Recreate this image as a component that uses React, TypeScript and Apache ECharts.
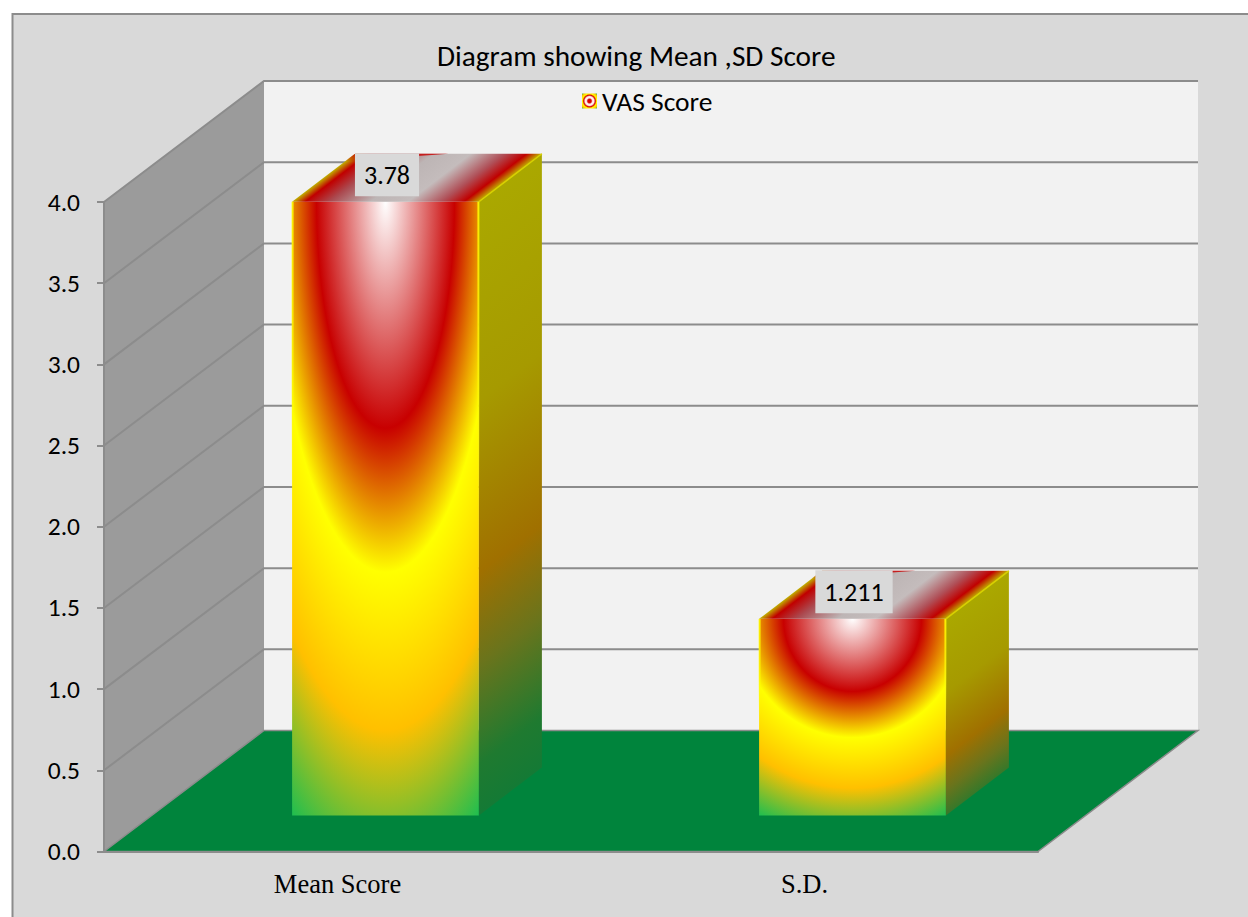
import React, { useEffect, useRef } from "react";
import * as echarts from "echarts";

const chartTitle = "Diagram showing Mean ,SD Score";
const seriesName = "VAS Score";
const categories = ["Mean Score", "S.D."];
const scoreValues = [3.78, 1.211];
const valueTicks = [0, 0.5, 1, 1.5, 2, 2.5, 3, 3.5, 4];

const UI_FONT = "Carlito, Lato, sans-serif";
const SERIF_FONT = "'Liberation Serif', serif";

// Oblique projection of the chart's depth axis
const WALL_DX = 160;
const WALL_DY = -121;
const BAR_GAP_DX = 48;
const BAR_GAP_DY = -36;
const BAR_DX = 63;
const BAR_DY = -48;
const BAR_WIDTH_RATIO = 0.4;

const GRID_LINE = "#8c8c8c";

const frontFill = () =>
  new echarts.graphic.RadialGradient(0.5, 0, 1.118, [
    { offset: 0, color: "#ffffff" },
    { offset: 0.33, color: "#c80000" },
    { offset: 0.54, color: "#ffff00" },
    { offset: 0.77, color: "#ffc000" },
    { offset: 1, color: "#1ebe50" },
  ]);

// Unit vector across the skewed faces, perpendicular to the depth direction
const depthLen = Math.hypot(BAR_DX, BAR_DY);
const nx = -BAR_DY / depthLen;
const ny = BAR_DX / depthLen;

const renderWalls = (params: any, api: any) => {
  const cs = params.coordSys;
  const x0 = cs.x;
  const x1 = cs.x + cs.width;
  const yFor = (v: number) => api.coord([0, v])[1];
  const y0 = yFor(valueTicks[0]);
  const yTop = yFor(valueTicks[valueTicks.length - 1]);
  const children: any[] = [
    {
      type: "polygon",
      shape: {
        points: [
          [x0 + WALL_DX, yTop + WALL_DY],
          [x1 + WALL_DX, yTop + WALL_DY],
          [x1 + WALL_DX, y0 + WALL_DY],
          [x0 + WALL_DX, y0 + WALL_DY],
        ],
      },
      style: { fill: "#f2f2f2" },
    },
    {
      type: "polygon",
      shape: {
        points: [
          [x0, yTop],
          [x0 + WALL_DX, yTop + WALL_DY],
          [x0 + WALL_DX, y0 + WALL_DY],
          [x0, y0],
        ],
      },
      style: { fill: "#9b9b9b" },
    },
  ];
  valueTicks.forEach((t) => {
    const y = yFor(t);
    children.push({
      type: "polyline",
      shape: {
        points: [
          [x0, y],
          [x0 + WALL_DX, y + WALL_DY],
          [x1 + WALL_DX, y + WALL_DY],
        ],
      },
      style: { stroke: GRID_LINE, lineWidth: t === 0 ? 0 : 2, fill: "none" },
    });
  });
  children.push({
    type: "polygon",
    shape: {
      points: [
        [x0, y0],
        [x1, y0],
        [x1 + WALL_DX, y0 + WALL_DY],
        [x0 + WALL_DX, y0 + WALL_DY],
      ],
    },
    style: { fill: "#00843c", stroke: GRID_LINE, lineWidth: 1.5 },
  });
  return { type: "group", children };
};

const rimFill = (yStart: number, yEnd: number) => ({
  type: "linear",
  global: true,
  x: 0,
  y: yStart,
  x2: 0,
  y2: yEnd,
  colorStops: [
    { offset: 0, color: "rgba(255,255,0,0.85)" },
    { offset: 0.6, color: "rgba(255,255,0,0.6)" },
    { offset: 1, color: "rgba(255,255,0,0)" },
  ],
});

const renderBar = (params: any, api: any) => {
  const idx = api.value(0);
  const val = api.value(1);
  const base = api.coord([idx, 0]);
  const top = api.coord([idx, val]);
  const w = api.size([1, 0])[0] * BAR_WIDTH_RATIO;
  const xl = base[0] - w / 2 + BAR_GAP_DX;
  const xr = xl + w;
  const yb = base[1] + BAR_GAP_DY;
  const yt = top[1] + BAR_GAP_DY;
  const backY = yt + BAR_DY;

  const sideLen = BAR_DX * nx + (yb - yt) * ny;
  const topLen = w * nx;
  const rimEnd = yt + (yb - yt) * 0.5;

  return {
    type: "group",
    children: [
      {
        type: "rect",
        shape: { x: xl, y: yt, width: w, height: yb - yt },
        style: { fill: frontFill() },
      },
      {
        // Side face, shaded along the same skew as the depth edges
        type: "polygon",
        shape: {
          points: [
            [xr, yt],
            [xr + BAR_DX, backY],
            [xr + BAR_DX, yb + BAR_DY],
            [xr, yb],
          ],
        },
        style: {
          fill: {
            type: "linear",
            global: true,
            x: xr,
            y: yt,
            x2: xr + nx * sideLen,
            y2: yt + ny * sideLen,
            colorStops: [
              { offset: 0, color: "#aaa800" },
              { offset: 0.3, color: "#a69a00" },
              { offset: 0.56, color: "#a07000" },
              { offset: 0.7, color: "#6a741c" },
              { offset: 0.85, color: "#1f7a30" },
              { offset: 1, color: "#0a7a3a" },
            ],
          },
        },
      },
      {
        // Lid
        type: "polygon",
        shape: {
          points: [
            [xl, yt],
            [xr, yt],
            [xr + BAR_DX, backY],
            [xl + BAR_DX, backY],
          ],
        },
        style: {
          fill: {
            type: "linear",
            global: true,
            x: xl,
            y: yt,
            x2: xl + nx * topLen,
            y2: yt + ny * topLen,
            colorStops: [
              { offset: 0, color: "#c0b000" },
              { offset: 0.07, color: "#c00000" },
              { offset: 0.2, color: "#ab4a50" },
              { offset: 0.42, color: "#bdb5b5" },
              { offset: 0.62, color: "#c4bcbc" },
              { offset: 0.8, color: "#b05058" },
              { offset: 0.92, color: "#c00000" },
              { offset: 1, color: "#c0b000" },
            ],
          },
        },
      },
      {
        // Thin deep-red wedge along the lid's rear edge
        type: "polygon",
        shape: {
          points: [
            [xl + BAR_DX, backY],
            [xl + BAR_DX + w * 0.5, backY],
            [xl + BAR_DX - 11, backY + 8],
          ],
        },
        style: {
          fill: {
            type: "linear",
            global: true,
            x: 0,
            y: backY,
            x2: 0,
            y2: backY + 8,
            colorStops: [
              { offset: 0, color: "rgba(200,0,0,0.9)" },
              { offset: 1, color: "rgba(200,0,0,0)" },
            ],
          },
        },
      },
      // Bright rims on the upper part of the front edges and the lid's side edge
      {
        type: "line",
        shape: { x1: xr - 0.5, y1: yt, x2: xr - 0.5, y2: rimEnd },
        style: { stroke: rimFill(yt, rimEnd), lineWidth: 2 },
      },
      {
        type: "line",
        shape: { x1: xl + 0.5, y1: yt, x2: xl + 0.5, y2: rimEnd },
        style: { stroke: rimFill(yt, rimEnd), lineWidth: 2 },
      },
      {
        type: "line",
        shape: { x1: xr, y1: yt, x2: xr + BAR_DX, y2: backY },
        style: { stroke: "#d8d000", lineWidth: 1.5 },
      },
      {
        type: "text",
        z2: 20,
        x: (xl + xr) / 2 + 1.5,
        y: yt - 27,
        style: {
          text: String(val),
          fontFamily: UI_FONT,
          fontSize: 26,
          fill: "#000",
          align: "center",
          verticalAlign: "middle",
          backgroundColor: "#d9d9d9",
          padding: [9, 9, 8, 9],
        },
      },
    ],
  };
};

export default function App() {
  const ref = useRef<HTMLDivElement>(null);

  useEffect(() => {
    const chart = echarts.init(ref.current!, undefined, { renderer: "svg" });
    chart.setOption({
      animation: false,
      backgroundColor: "#ffffff",
      title: {
        text: chartTitle,
        left: 432,
        top: 36,
        textStyle: { fontFamily: UI_FONT, fontSize: 29.3, fontWeight: "normal", color: "#000" },
      },
      legend: {
        left: 577,
        top: 82,
        itemWidth: 15,
        itemHeight: 15,
        selectedMode: false,
        textStyle: { fontFamily: UI_FONT, fontSize: 27.5, color: "#000" },
        data: [
          {
            name: seriesName,
            icon: "rect",
            itemStyle: {
              color: new echarts.graphic.RadialGradient(0.5, 0.5, 0.7, [
                { offset: 0, color: "#d80000" },
                { offset: 0.16, color: "#d80000" },
                { offset: 0.3, color: "#ffeeee" },
                { offset: 0.42, color: "#ffeeee" },
                { offset: 0.55, color: "#d80000" },
                { offset: 0.68, color: "#ffff00" },
                { offset: 0.85, color: "#ffc000" },
                { offset: 1, color: "#1ebe50" },
              ]),
            },
          },
        ],
      },
      grid: { left: 104, right: 210, top: 202, bottom: 65.5 },
      xAxis: {
        type: "category",
        data: categories,
        z: 3,
        axisLine: { lineStyle: { color: GRID_LINE, width: 2 } },
        axisTick: { show: false },
        axisLabel: { fontFamily: SERIF_FONT, fontSize: 26.5, color: "#000", margin: 19 },
      },
      yAxis: {
        type: "value",
        min: 0,
        max: 4,
        interval: 0.5,
        z: 3,
        axisLine: { show: true, lineStyle: { color: GRID_LINE, width: 2 } },
        axisTick: { show: true, length: 7, lineStyle: { color: GRID_LINE, width: 2 } },
        axisLabel: {
          fontFamily: UI_FONT,
          fontSize: 25.5,
          color: "#000",
          margin: 24,
          formatter: (v: number) => v.toFixed(1),
        },
        splitLine: { show: false },
      },
      graphic: [
        {
          type: "rect",
          z: -1,
          shape: { x: 12.5, y: 14, width: 1300, height: 1000 },
          style: { fill: "#d9d9d9", stroke: GRID_LINE, lineWidth: 2 },
        },
      ],
      series: [
        {
          type: "custom",
          name: "walls",
          z: 2,
          silent: true,
          clip: false,
          data: [[0, 0]],
          renderItem: renderWalls,
        },
        {
          type: "custom",
          name: seriesName,
          z: 2,
          silent: true,
          clip: false,
          encode: { x: 0, y: 1 },
          data: scoreValues.map((v, i) => [i, v]),
          renderItem: renderBar,
        },
      ],
    });
    return () => chart.dispose();
  }, []);

  return (
    <div
      ref={ref}
      style={{ position: "absolute", left: 0, top: 0, width: 1248, height: 917 }}
    />
  );
}
